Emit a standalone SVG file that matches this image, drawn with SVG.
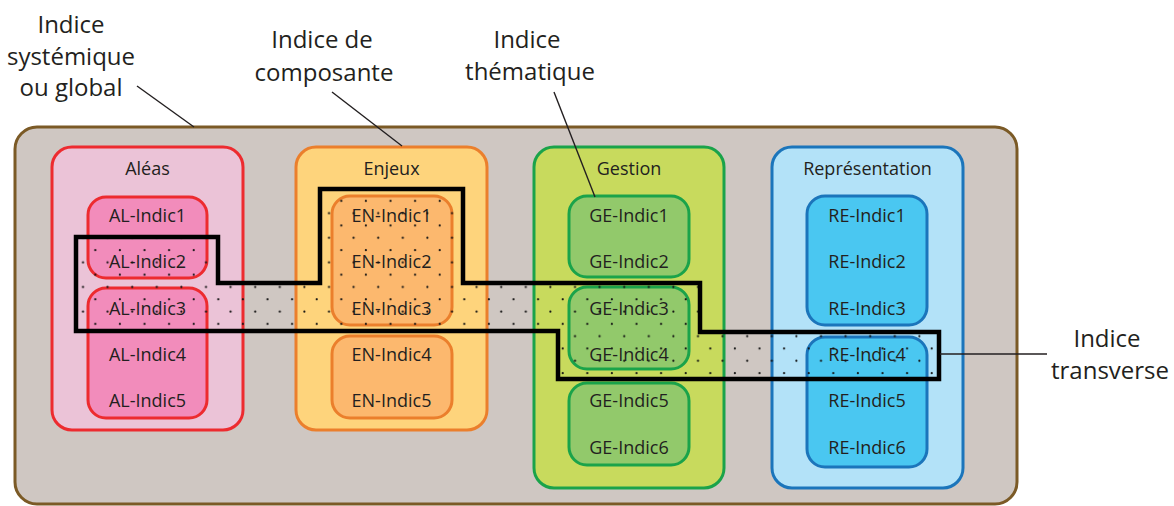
<svg xmlns="http://www.w3.org/2000/svg" width="1174" height="506" viewBox="0 0 1174 506">
<style>
text{font-family:"Open Sans","Noto Sans",sans-serif;fill:#231f20;text-anchor:middle}
.lbl{font-size:24px}
.t{font-size:18px}
.grp{stroke-width:3}
.al{fill:#ebc3d7;stroke:#ed2b2f}
.ali{fill:#f28cbb;stroke:#ed2b2f;stroke-width:3}
.en{fill:#fed47c;stroke:#eb7f2c}
.eni{fill:#fcb86e;stroke:#eb7f2c;stroke-width:3}
.ge{fill:#c8da5d;stroke:#1aa34a}
.gei{fill:#92c96b;stroke:#1aa34a;stroke-width:3}
.re{fill:#b3e2f8;stroke:#1b75bb}
.rei{fill:#4ac7f1;stroke:#1b75bb;stroke-width:3}
.lead{stroke:#231f20;stroke-width:1.4;fill:none}
</style>
<defs>
<pattern id="dots" patternUnits="userSpaceOnUse" x="0" y="0" width="24.6" height="24.6">
<circle cx="9.2" cy="16.4" r="1.1" fill="#111"/>
<circle cx="21.5" cy="4.1" r="1.1" fill="#111"/>
</pattern>
</defs>
<rect width="1174" height="506" fill="#fff"/>
<g id="systeme">
<rect x="15" y="127" width="1002" height="377" rx="22" fill="#cfc7c2" stroke="#7b5a26" stroke-width="3"/>
</g>
<g id="aleas">
<rect class="grp al" x="52" y="147" width="191" height="283" rx="20"/>
<text class="t" x="147.5" y="175">Aléas</text>
<rect class="ali" x="88" y="197" width="119" height="81" rx="18"/>
<rect class="ali" x="88" y="288" width="119" height="130" rx="18"/>
<text class="t" x="147.5" y="222">AL-Indic1</text>
<text class="t" x="147.5" y="268">AL-Indic2</text>
<text class="t" x="147.5" y="315">AL-Indic3</text>
<text class="t" x="147.5" y="361">AL-Indic4</text>
<text class="t" x="147.5" y="407">AL-Indic5</text>
</g>
<g id="enjeux">
<rect class="grp en" x="296" y="147" width="191" height="283" rx="20"/>
<text class="t" x="391.5" y="175">Enjeux</text>
<rect class="eni" x="332" y="196" width="120" height="129" rx="18"/>
<rect class="eni" x="332" y="336" width="120" height="82" rx="18"/>
<text class="t" x="391.5" y="222">EN-Indic1</text>
<text class="t" x="391.5" y="268">EN-Indic2</text>
<text class="t" x="391.5" y="315">EN-Indic3</text>
<text class="t" x="391.5" y="361">EN-Indic4</text>
<text class="t" x="391.5" y="407">EN-Indic5</text>
</g>
<g id="gestion">
<rect class="grp ge" x="534" y="147" width="190" height="341" rx="20"/>
<text class="t" x="629" y="175">Gestion</text>
<rect class="gei" x="569" y="196" width="120" height="81" rx="18"/>
<rect class="gei" x="569" y="287" width="120" height="82" rx="18"/>
<rect class="gei" x="569" y="383" width="120" height="82" rx="18"/>
<text class="t" x="629" y="222">GE-Indic1</text>
<text class="t" x="629" y="268">GE-Indic2</text>
<text class="t" x="629" y="315">GE-Indic3</text>
<text class="t" x="629" y="361">GE-Indic4</text>
<text class="t" x="629" y="407">GE-Indic5</text>
<text class="t" x="629" y="454">GE-Indic6</text>
</g>
<g id="representation">
<rect class="grp re" x="772" y="147" width="191" height="341" rx="20"/>
<text class="t" x="867.5" y="175">Représentation</text>
<rect class="rei" x="807" y="196" width="120" height="129" rx="18"/>
<rect class="rei" x="807" y="337" width="120" height="130" rx="18"/>
<text class="t" x="867" y="222">RE-Indic1</text>
<text class="t" x="867" y="268">RE-Indic2</text>
<text class="t" x="867" y="315">RE-Indic3</text>
<text class="t" x="867" y="361">RE-Indic4</text>
<text class="t" x="867" y="407">RE-Indic5</text>
<text class="t" x="867" y="454">RE-Indic6</text>
</g>
<g id="transverse">
<path d="M76,237 L218,237 L218,283 L320,283 L320,189 L463,189 L463,283 L700,283 L700,332 L939,332 L939,379 L558,379 L558,331 L76,331 Z" fill="url(#dots)" stroke="#000" stroke-width="4.5"/>
</g>
<g id="connectors">
<line class="lead" x1="137" y1="86" x2="194" y2="127"/>
<line class="lead" x1="332" y1="92" x2="402" y2="146"/>
<line class="lead" x1="554" y1="92" x2="595" y2="197"/>
<line class="lead" x1="940" y1="354" x2="1047" y2="354"/>
</g>
<g id="labels">
<text class="lbl" x="71" y="33">Indice</text>
<text class="lbl" x="71" y="65">systémique</text>
<text class="lbl" x="71" y="96">ou global</text>
<text class="lbl" x="322" y="48">Indice de</text>
<text class="lbl" x="324" y="81">composante</text>
<text class="lbl" x="527" y="48">Indice</text>
<text class="lbl" x="530" y="80">thématique</text>
<text class="lbl" x="1107" y="347">Indice</text>
<text class="lbl" x="1110" y="379">transverse</text>
</g>
</svg>
